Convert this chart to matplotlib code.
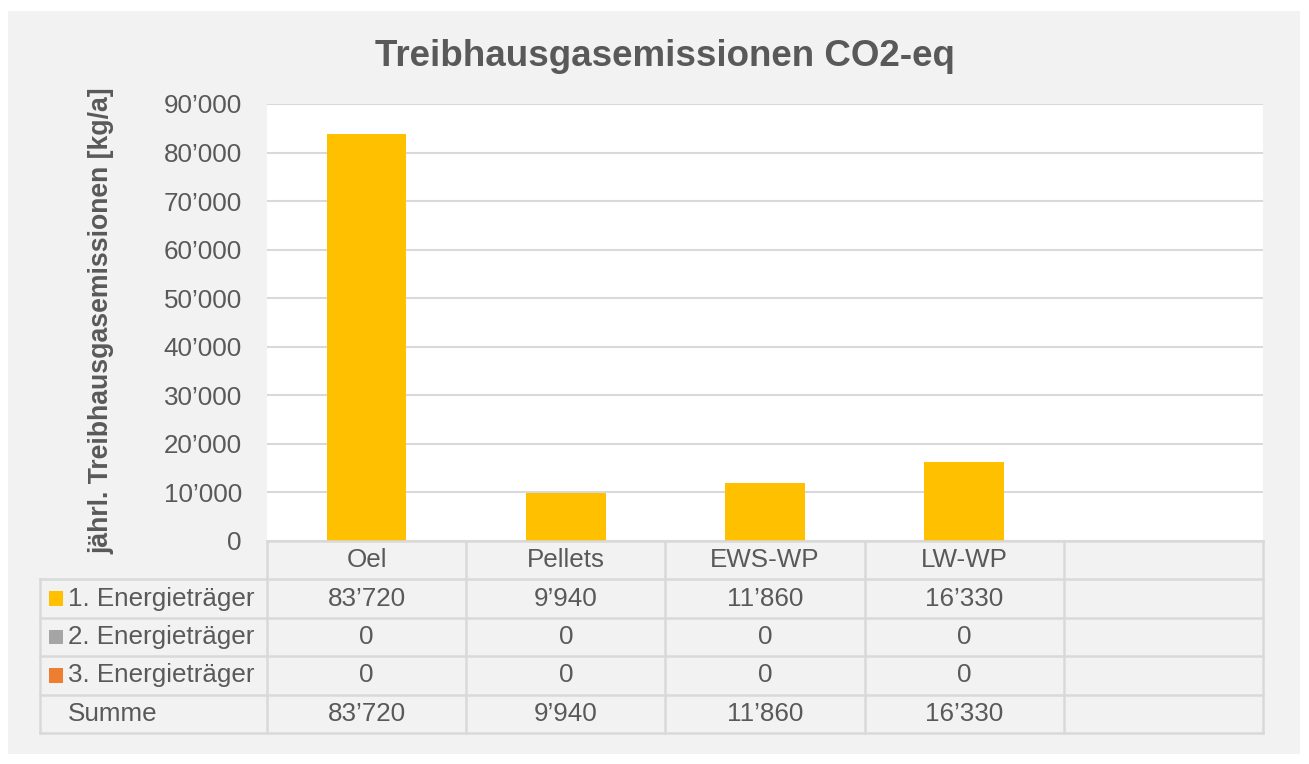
import matplotlib
matplotlib.use("Agg")
import matplotlib.pyplot as plt
from matplotlib.patches import Rectangle
from matplotlib.ticker import FuncFormatter
import numpy as np

plt.rcParams["font.family"] = ["Liberation Sans", "DejaVu Sans"]

# data
categories = ["Oel", "Pellets", "EWS-WP", "LW-WP", ""]
series_names = ["1. Energieträger", "2. Energieträger", "3. Energieträger"]
series_1 = [83720, 9940, 11860, 16330]
series_2 = [0, 0, 0, 0]
series_3 = [0, 0, 0, 0]
series_colors = ["#ffc000", "#a5a5a5", "#ed7d31"]
yticks = list(range(0, 90001, 10000))

TXT = "#595959"
GRID = "#d9d9d9"
FS = 18.7

W, H = 1309, 764
fig = plt.figure(figsize=(W / 100, H / 100), dpi=100, facecolor="white")

# chart area background
fig.patches.append(Rectangle((8 / W, 1 - 754 / H), (1300 - 8) / W, (754 - 11) / H,
                             transform=fig.transFigure, facecolor="#f2f2f2",
                             edgecolor="none", zorder=-5))


def px(x0, y0, x1, y1):
    return [x0 / W, 1 - y1 / H, (x1 - x0) / W, (y1 - y0) / H]


ax = fig.add_axes(px(267, 104, 1263, 541))
ax.set_facecolor("white")
n = len(categories)
x = np.arange(len(series_1))
data = [series_1, series_2, series_3]
bottom = np.zeros(len(series_1))
for vals, c in zip(data, series_colors):
    ax.bar(x, vals, width=0.4, bottom=bottom, color=c, linewidth=0, zorder=3)
    bottom += np.array(vals)

ax.set_xlim(-0.5, n - 0.5)
ax.set_ylim(0, 90000)
ax.set_yticks(yticks)
ax.yaxis.set_major_formatter(FuncFormatter(lambda v, p: f"{int(v):,}".replace(",", "\u2019")))
ax.set_xticks([])
ax.tick_params(axis="y", length=0, pad=18, labelsize=FS, labelcolor=TXT)
ax.grid(axis="y", color=GRID, linewidth=1.5, zorder=0)
ax.set_axisbelow(True)
for s in ax.spines.values():
    s.set_visible(False)

fig.text(664.5 / W, 1 - 56 / H, "Treibhausgasemissionen CO2-eq", ha="center", va="center",
         fontsize=26.5, fontweight="bold", color=TXT)
fig.text(101.5 / W, 1 - 321 / H, "jährl. Treibhausgasemissionen [kg/a]", ha="center", va="center",
         rotation=90, fontsize=19.2, fontweight="bold", color=TXT)

# data table
colw = (1263 - 267) / n
left = -0.5 - (267 - 40) / colw
tab = fig.add_axes(px(40, 541, 1263, 733))
tab.set_xlim(left, n - 0.5)
tab.set_ylim(5, 0)
tab.axis("off")

lw = 1.8
# horizontal lines
tab.plot([-0.5, n - 0.5], [0, 0], color=GRID, lw=lw, clip_on=False)
for r in range(1, 6):
    tab.plot([left, n - 0.5], [r, r], color=GRID, lw=lw, clip_on=False)
# vertical lines
tab.plot([left, left], [1, 5], color=GRID, lw=lw, clip_on=False)
for c in range(n + 1):
    tab.plot([c - 0.5, c - 0.5], [0, 5], color=GRID, lw=lw, clip_on=False)

fmt = lambda v: f"{int(v):,}".replace(",", "\u2019")
for i, name in enumerate(categories):
    tab.text(i, 0.5, name, ha="center", va="center", fontsize=FS, color=TXT)

sums = [a + b + c for a, b, c in zip(series_1, series_2, series_3)]
rows = data + [sums]
labels = series_names + ["Summe"]
sq = 14 / colw
lab_x = left + (68 - 40) / colw
for r, (lab, vals) in enumerate(zip(labels, rows)):
    yc = r + 1.5
    if r < 3:
        tab.add_patch(Rectangle((left + (49 - 40) / colw, yc - 0.19), sq, 0.38,
                                facecolor=series_colors[r], edgecolor="none"))
    tab.text(lab_x, yc, lab, ha="left", va="center", fontsize=FS, color=TXT)
    for i, v in enumerate(vals):
        tab.text(i, yc, fmt(v), ha="center", va="center", fontsize=FS, color=TXT)

fig.savefig("out.png", dpi=100, facecolor="white")
